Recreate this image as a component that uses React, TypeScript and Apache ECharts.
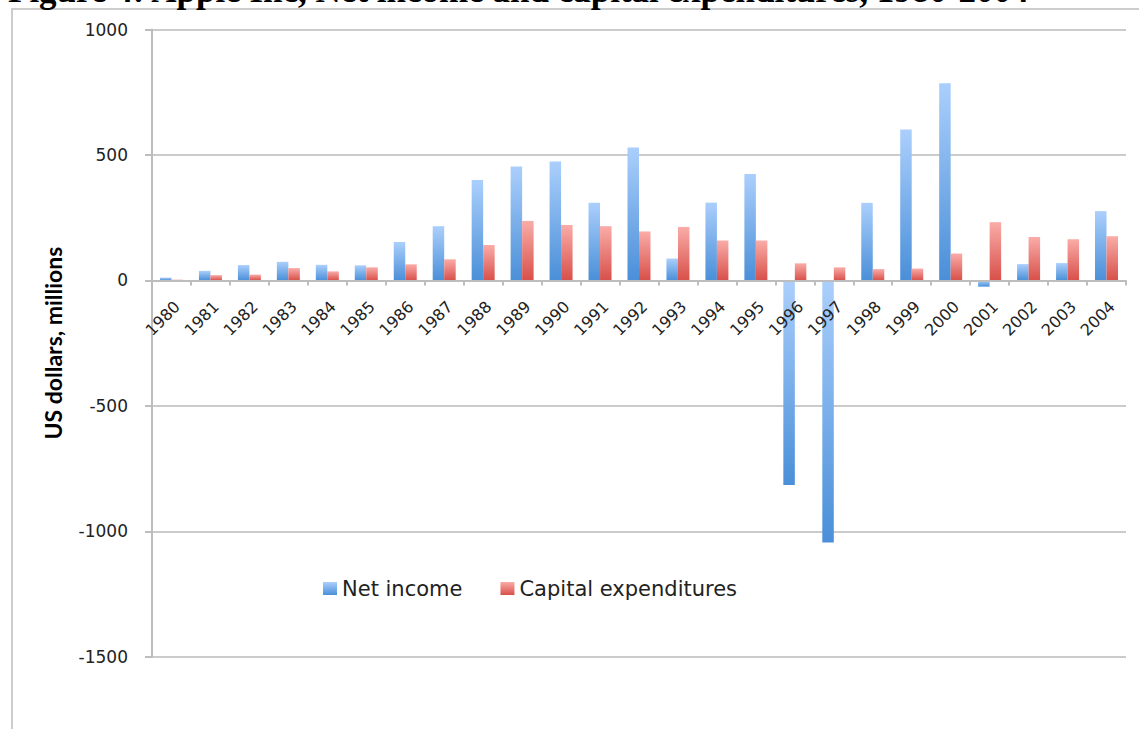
import React, { useEffect, useRef } from "react";
import * as echarts from "echarts";

const years = [
  "1980", "1981", "1982", "1983", "1984", "1985", "1986", "1987", "1988", "1989",
  "1990", "1991", "1992", "1993", "1994", "1995", "1996", "1997", "1998", "1999",
  "2000", "2001", "2002", "2003", "2004",
];
const netIncome = [
  11, 38, 61, 74, 62, 60, 153, 216, 400, 454,
  474, 309, 530, 87, 310, 424, -816, -1045, 309, 601,
  786, -25, 65, 69, 276,
];
const capitalExpenditures = [
  3, 21, 23, 49, 36, 52, 64, 84, 141, 237,
  221, 216, 195, 213, 159, 159, 68, 52, 45, 47,
  107, 232, 173, 164, 176,
];
const yMin = -1500;
const yMax = 1000;
const yInterval = 500;
const titleText = "Figure 4: Apple Inc, Net income and capital expenditures, 1980-2004";
const yAxisName = "US dollars, millions";

const gridTop = 29.5;
const gridBottom = 72.3;
const chartH = 729;

const blueGrad = new echarts.graphic.LinearGradient(0, 0, 0, 1, [
  { offset: 0, color: "#abcffc" },
  { offset: 1, color: "#4a8fd8" },
]);
const redGrad = new echarts.graphic.LinearGradient(0, 0, 0, 1, [
  { offset: 0, color: "#faaca8" },
  { offset: 1, color: "#d8504a" },
]);

export default function App() {
  const ref = useRef<HTMLDivElement>(null);
  useEffect(() => {
    if (!ref.current) return;
    const chart = echarts.init(ref.current, null, { renderer: "svg" });
    const plotH = chartH - gridTop - gridBottom;
    const zeroOffset = -plotH * ((0 - yMin) / (yMax - yMin));
    chart.setOption({
      animation: false,
      backgroundColor: "#ffffff",
      graphic: [
        {
          type: "rect",
          shape: { x: 12, y: 9, width: 1300, height: 900 },
          style: { fill: "none", stroke: "#cdcdcd", lineWidth: 2 },
          silent: true,
          z: 0,
        },
        {
          type: "text",
          x: 8,
          y: 8,
          style: {
            text: titleText,
            font: "bold 35px 'Liberation Serif', serif",
            fill: "#000000",
            verticalAlign: "bottom",
          },
          silent: true,
        },
      ],
      grid: { left: 152, right: 13, top: gridTop, bottom: gridBottom, containLabel: false },
      legend: {
        left: 318,
        top: 573,
        itemWidth: 14,
        itemHeight: 13,
        itemGap: 38,
        icon: "rect",
        textStyle: { fontFamily: "DejaVu Sans", fontSize: 21, color: "#222222" },
        data: ["Net income", "Capital expenditures"],
      },
      xAxis: {
        type: "category",
        data: years,
        offset: zeroOffset,
        z: 10,
        axisLine: { onZero: false, lineStyle: { color: "#bdbdbd", width: 2 } },
        axisTick: { show: true, length: 5, lineStyle: { color: "#bdbdbd", width: 2 } },
        axisLabel: {
          rotate: 45,
          margin: 18,
          verticalAlign: "top",
          fontFamily: "DejaVu Sans",
          fontSize: 16,
          color: "#222222",
          interval: 0,
        },
        splitLine: { show: false },
      },
      yAxis: {
        type: "value",
        min: yMin,
        max: yMax,
        interval: yInterval,
        name: yAxisName,
        nameLocation: "middle",
        nameRotate: 90,
        nameGap: 88,
        nameTextStyle: {
          fontFamily: "Lato",
          fontWeight: "bold",
          fontSize: 23,
          color: "#000000",
        },
        axisLine: { show: true, lineStyle: { color: "#bdbdbd", width: 2 } },
        axisTick: { show: true, length: 7, lineStyle: { color: "#bdbdbd", width: 2 } },
        axisLabel: {
          margin: 24,
          fontFamily: "DejaVu Sans",
          fontSize: 17,
          color: "#222222",
          formatter: (v: number) => String(v),
        },
        splitLine: { show: true, lineStyle: { color: "#cbcbcb", width: 2 } },
      },
      series: [
        {
          name: "Net income",
          type: "bar",
          data: netIncome,
          barWidth: 11.5,
          barGap: "0%",
          itemStyle: { color: blueGrad },
        },
        {
          name: "Capital expenditures",
          type: "bar",
          data: capitalExpenditures,
          barWidth: 11.5,
          barGap: "0%",
          itemStyle: { color: redGrad },
        },
      ],
    });
    return () => chart.dispose();
  }, []);
  return (
    <div
      ref={ref}
      style={{ position: "absolute", left: 0, top: 0, width: 1139, height: 729 }}
    />
  );
}
